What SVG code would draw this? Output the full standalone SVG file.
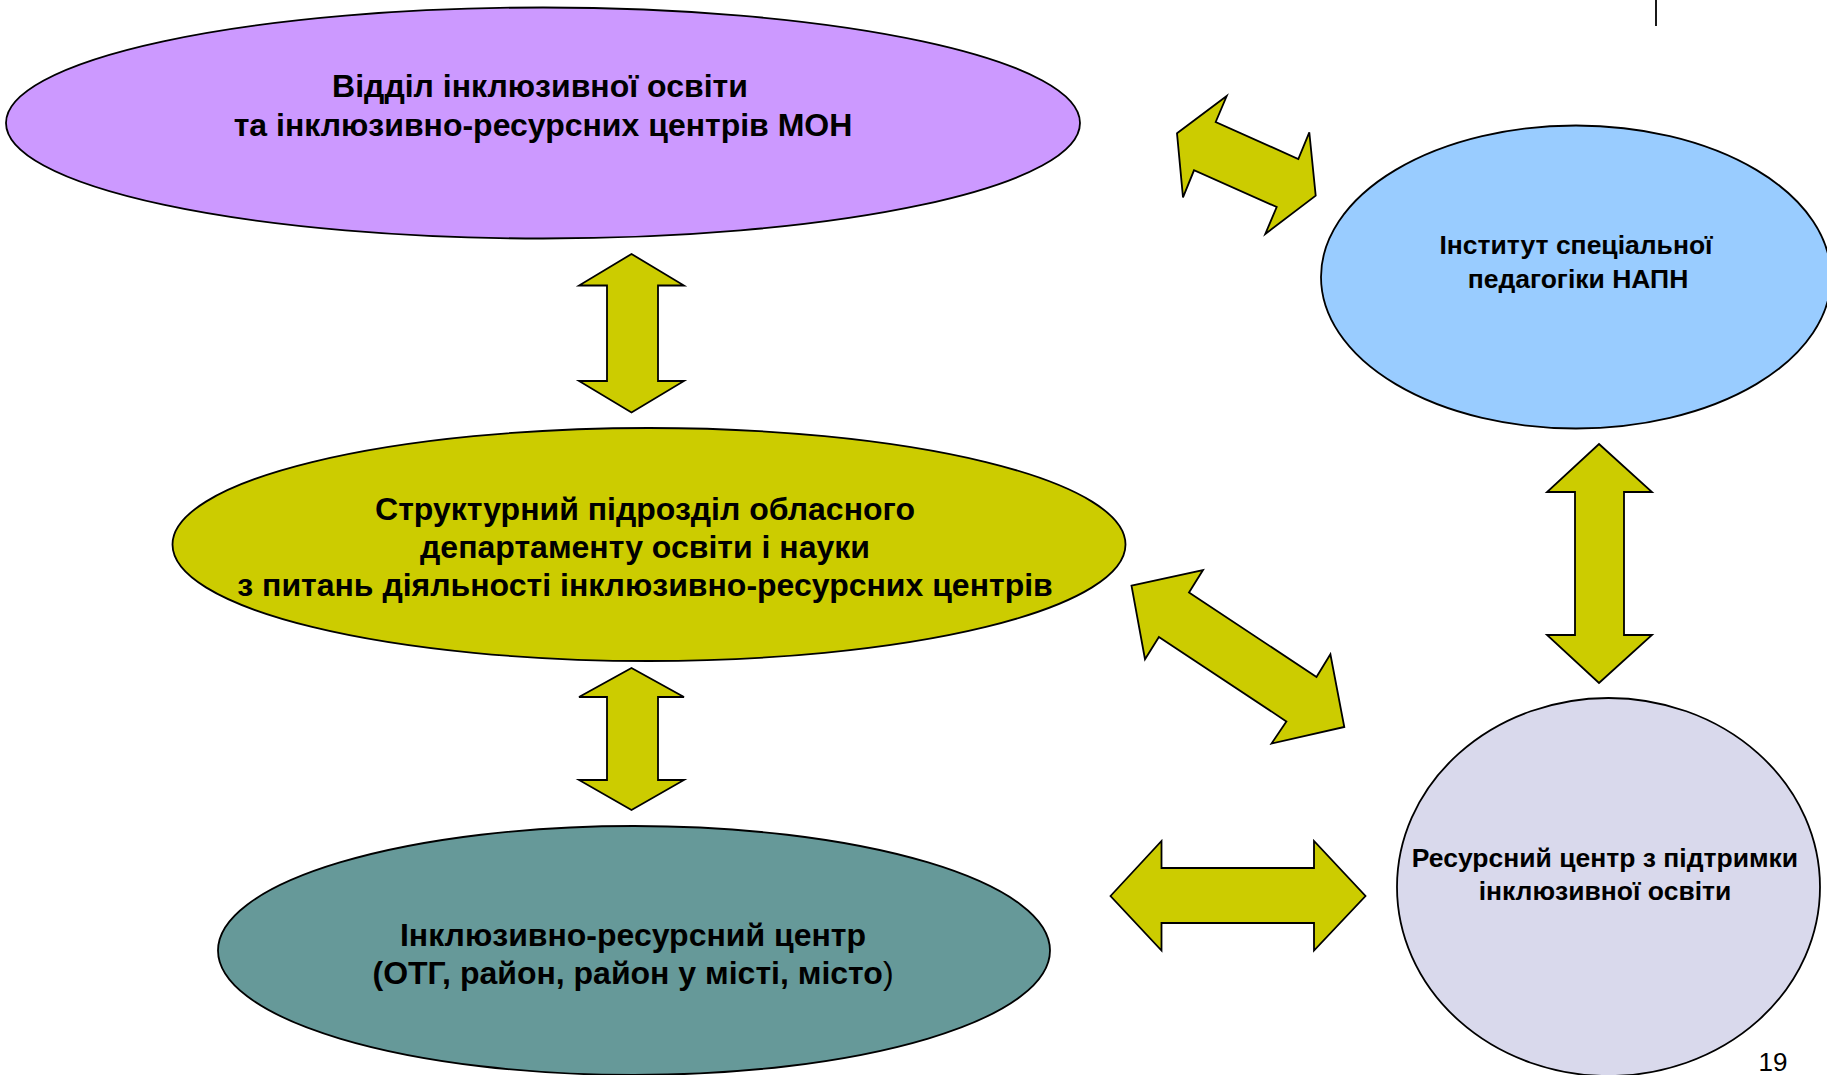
<svg xmlns="http://www.w3.org/2000/svg" width="1827" height="1075" viewBox="0 0 1827 1075">
<style>
.node{stroke:#000;stroke-width:1.8}
.arr{fill:#CCCC00;stroke:#000;stroke-width:1.8;stroke-linejoin:miter}
.t{font-family:"Liberation Sans",Arial,sans-serif;font-weight:bold;fill:#000;text-anchor:middle}
.big{font-size:32px}
.small{font-size:26.5px}
</style>
<rect width="1827" height="1075" fill="#fff"/>
<line x1="1656" y1="0" x2="1656" y2="26" stroke="#000" stroke-width="1.8"/>
<g id="connectors">
<polygon class="arr" points="631.5,254 684,285.5 658,285.5 658,381 684,381 631.5,412.5 579,381 607,381 607,285.5 579,285.5"/>
<polygon class="arr" points="631.5,668 684,697 658,697 658,780 684,780 631.5,810 579,780 607,780 607,697 579,697"/>
<polygon class="arr" points="1599,444 1652,492 1624,492 1624,635 1652,635 1599,683 1547,635 1575,635 1575,492 1547,492"/>
<polygon class="arr" points="1110.5,896 1161.5,841 1161.5,868 1314,868 1314,841 1365.5,896 1314,950.5 1314,923 1161.5,923 1161.5,950.5"/>
<polygon class="arr" points="1131.5,585.6 1203,570 1189,592.5 1316.5,677 1330.4,654.3 1344.3,727 1271.5,743.6 1286.4,721.4 1158.9,637 1145,659.2"/>
<polygon class="arr" points="1177,133.3 1226.7,96 1215.7,122 1298.3,159 1309.3,132.3 1315.7,195.7 1265.3,234 1276.7,207 1194,170.3 1183,197.3"/>
</g>
<g id="node-mon">
<ellipse class="node" cx="543" cy="123" rx="537" ry="115.5" fill="#CC99FF"/>
<text class="t big" x="540" y="97">Відділ інклюзивної освіти</text>
<text class="t big" x="543" y="136">та інклюзивно-ресурсних центрів МОН</text>
</g>
<g id="node-napn">
<ellipse class="node" cx="1576" cy="277" rx="255" ry="151.5" fill="#99CCFF"/>
<text class="t small" x="1576" y="254">Інститут спеціальної</text>
<text class="t small" x="1578" y="288">педагогіки НАПН</text>
</g>
<g id="node-oblast">
<ellipse class="node" cx="649" cy="544.5" rx="476.5" ry="116.5" fill="#CCCC00"/>
<text class="t big" x="645" y="520">Структурний підрозділ обласного</text>
<text class="t big" x="645" y="558">департаменту освіти і науки</text>
<text class="t big" x="645" y="596">з питань діяльності інклюзивно-ресурсних центрів</text>
</g>
<g id="node-irc">
<ellipse class="node" cx="634" cy="950.5" rx="416" ry="124.5" fill="#669999"/>
<text class="t big" x="633" y="946">Інклюзивно-ресурсний центр</text>
<text class="t big" x="633" y="984">(ОТГ, район, район у місті, місто<tspan font-weight="normal">)</tspan></text>
</g>
<g id="node-resource">
<ellipse class="node" cx="1608.5" cy="887" rx="211.5" ry="189" fill="#D9D9EC"/>
<text class="t small" x="1605" y="867">Ресурсний центр з підтримки</text>
<text class="t small" x="1605" y="900">інклюзивної освіти</text>
</g>
<text x="1773" y="1071" font-family="Liberation Sans,Arial,sans-serif" font-size="26" text-anchor="middle" fill="#000">19</text>
</svg>
